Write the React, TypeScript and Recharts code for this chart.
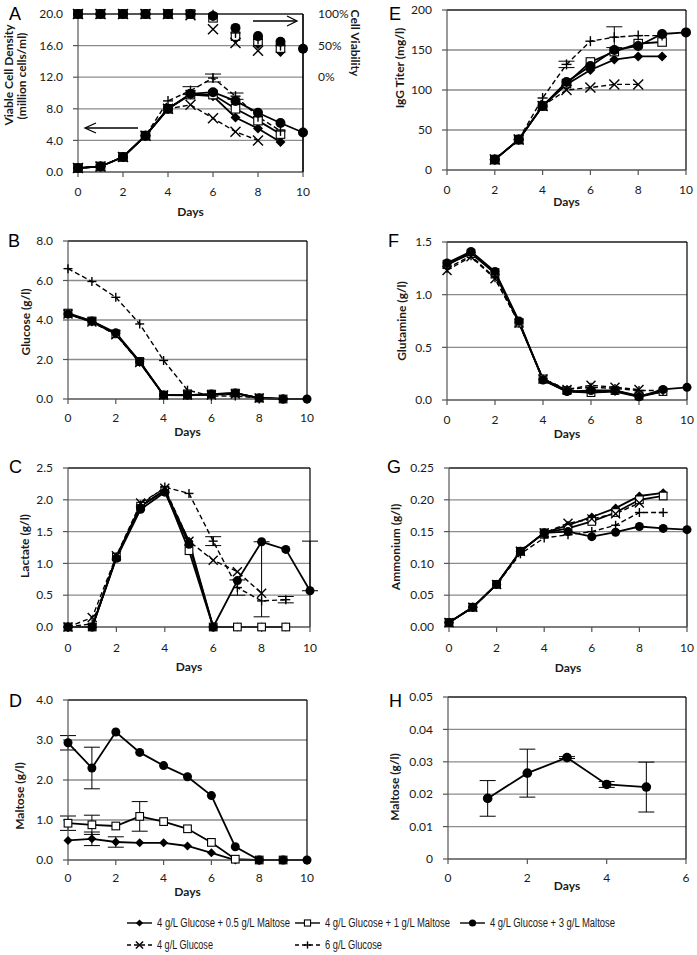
import React from 'react';
import { ComposedChart, Line, XAxis, YAxis, CartesianGrid, ReferenceLine, ErrorBar, Label } from 'recharts';

const FONT = 'Lato, "Open Sans", "DejaVu Sans", sans-serif';
const INK = '#000';
const TXT = '#1a1a1a';

// ---------- categories ----------
const days = [0, 1, 2, 3, 4, 5, 6, 7, 8, 9, 10];
const xTicks10 = [0, 2, 4, 6, 8, 10];
const hDays = [1, 2, 3, 4, 5];
const xTicksH = [0, 2, 4, 6];

const seriesNames = [
  '4 g/L Glucose + 0.5 g/L Maltose',
  '4 g/L Glucose + 1 g/L Maltose',
  '4 g/L Glucose + 3 g/L Maltose',
  '4 g/L Glucose',
  '6 g/L Glucose',
];

// ---------- A: viable cell density (million cells/ml) ----------
const vcdM05 = [0.5, 0.7, 1.9, 4.6, 8.0, 9.8, 9.6, 6.9, 5.5, 3.8, null];
const vcdM1 = [0.5, 0.7, 1.9, 4.6, 8.0, 9.8, 9.8, 8.0, 6.5, 4.8, null];
const vcdM3 = [0.5, 0.7, 1.9, 4.6, 8.0, 9.9, 10.1, 9.0, 7.5, 6.2, 5.0];
const vcdG4 = [0.5, 0.7, 1.9, 4.6, 8.0, 8.5, 6.8, 5.1, 4.0, null, null];
const vcdG6 = [0.5, 0.7, 1.9, 4.6, 9.0, 10.3, 11.9, 9.6, 7.0, 5.2, null];
const vcdG6Err = [null, null, null, null, null, 0.5, 0.5, 0.4, null, null, null];
// ---------- A: cell viability (%) ----------
const viaM05 = [100, 100, 100, 100, 100, 100, 97, 62, 52, 40, null];
const viaM1 = [100, 100, 100, 100, 100, 100, 94, 65, 57, 46, null];
const viaM3 = [100, 100, 100, 100, 100, 100, 97, 78, 65, 56, 45];
const viaG4 = [100, 100, 100, 100, 100, 98, 76, 54, 42, null, null];
const viaG6 = [100, 100, 100, 100, 100, 100, 99, 70, 60, 50, null];
const viaDomain = [-150, 100];
const viaTicks = [0, 50, 100];

// ---------- E: IgG titer (mg/l) ----------
const igM05 = [null, null, 13, 38, 80, 107, 125, 138, 142, 142, null];
const igM1 = [null, null, 13, 38, 80, 108, 135, 148, 158, 160, null];
const igM3 = [null, null, 13, 38, 80, 110, 130, 150, 155, 170, 172];
const igG4 = [null, null, 13, 38, 80, 100, 103, 107, 107, null, null];
const igG6 = [null, null, 13, 38, 90, 132, 161, 166, 168, 168, null];
const igG6Err = [null, null, null, null, null, 4, null, 13, null, null, null];

// ---------- B: glucose (g/l) ----------
const gluM05 = [4.3, 3.9, 3.3, 1.85, 0.2, 0.18, 0.22, 0.3, 0.05, 0.0, null];
const gluM1 = [4.35, 3.95, 3.3, 1.9, 0.2, 0.2, 0.25, 0.3, 0.05, 0.0, null];
const gluM3 = [4.3, 3.95, 3.35, 1.9, 0.2, 0.2, 0.25, 0.3, 0.05, 0.0, 0.0];
const gluG4 = [4.3, 3.9, 3.25, 1.85, 0.2, 0.2, 0.2, 0.25, 0.05, null, null];
const gluG6 = [6.6, 5.95, 5.15, 3.8, 1.95, 0.45, 0.15, 0.15, 0.05, 0.0, null];

// ---------- F: glutamine (g/l) ----------
const glnM05 = [1.28, 1.4, 1.2, 0.74, 0.19, 0.08, 0.07, 0.08, 0.03, 0.08, null];
const glnM1 = [1.29, 1.39, 1.21, 0.73, 0.2, 0.09, 0.07, 0.09, 0.04, 0.08, null];
const glnM3 = [1.3, 1.41, 1.22, 0.75, 0.19, 0.08, 0.09, 0.09, 0.03, 0.1, 0.12];
const glnG4 = [1.23, 1.36, 1.15, 0.73, 0.2, 0.1, 0.14, 0.12, 0.1, null, null];
const glnG6 = [1.25, 1.37, 1.16, 0.73, 0.2, 0.1, 0.12, 0.11, 0.09, 0.09, null];

// ---------- C: lactate (g/l) ----------
const lacM05 = [0, 0, 1.1, 1.9, 2.15, 1.35, 0, 0, 0, 0, null];
const lacM1 = [0, 0, 1.1, 1.9, 2.15, 1.2, 0, 0, 0, 0, null];
const lacM3 = [0, 0, 1.08, 1.85, 2.12, 1.3, 0, 0.73, 1.34, 1.22, 0.57];
const lacM3Err = [null, null, null, null, null, null, null, null, [1.18, 0], null, [0, 0.78]];
const lacG4 = [0, 0.15, 1.12, 1.95, 2.18, 1.35, 1.05, 0.87, 0.53, null, null];
const lacG6 = [0, 0.05, 1.1, 1.92, 2.2, 2.1, 1.35, 0.62, 0.41, 0.43, null];
const lacG6Err = [null, null, null, null, null, null, 0.07, 0.12, null, 0.05, null];

// ---------- G: ammonium (g/l) ----------
const ammM05 = [0.007, 0.031, 0.067, 0.119, 0.148, 0.16, 0.173, 0.187, 0.206, 0.211, null];
const ammM1 = [0.007, 0.031, 0.067, 0.119, 0.148, 0.155, 0.166, 0.18, 0.2, 0.206, null];
const ammM3 = [0.007, 0.031, 0.067, 0.119, 0.148, 0.15, 0.142, 0.149, 0.158, 0.155, 0.153];
const ammG4 = [0.007, 0.031, 0.067, 0.119, 0.148, 0.163, 0.17, 0.178, 0.195, null, null];
const ammG6 = [0.007, 0.031, 0.067, 0.115, 0.14, 0.145, 0.15, 0.16, 0.18, 0.18, null];

// ---------- D: maltose (g/l) ----------
const malM05 = [0.49, 0.53, 0.45, 0.43, 0.43, 0.35, 0.18, 0.0, 0.0, 0.0, null];
const malM05Err = [null, 0.17, 0.13, null, null, null, null, null, null, null, null];
const malM1 = [0.92, 0.88, 0.85, 1.09, 0.96, 0.78, 0.44, 0.02, 0.0, 0.0, null];
const malM1Err = [0.18, 0.24, null, 0.37, null, null, null, null, null, null, null];
const malM3 = [2.93, 2.3, 3.2, 2.69, 2.36, 2.08, 1.61, 0.33, 0.0, 0.0, 0.0];
const malM3Err = [0.18, 0.52, null, null, null, null, null, null, null, null, null];

// ---------- H: maltose (g/l), glucose-only culture ----------
const hMal = [0.0187, 0.0265, 0.0313, 0.023, 0.0222];
const hMalErr = [0.0055, 0.0074, 0.0003, 0.0009, 0.0077];

// ---------- axis ticks ----------
const ticksA = [0, 4, 8, 12, 16, 20];
const ticksE = [0, 50, 100, 150, 200];
const ticksB = [0, 2, 4, 6, 8];
const ticksF = [0, 0.5, 1.0, 1.5];
const ticksC = [0, 0.5, 1.0, 1.5, 2.0, 2.5];
const ticksG = [0, 0.05, 0.1, 0.15, 0.2, 0.25];
const ticksD = [0, 1, 2, 3, 4];
const ticksH = [0, 0.01, 0.02, 0.03, 0.04, 0.05];

type Shape = 'diamond' | 'square' | 'circle' | 'x' | 'plus';

function buildRows(xs: number[], cols: Record<string, any[]>) {
  return xs.map((x, i) => {
    const r: any = { day: x };
    Object.keys(cols).forEach((k) => {
      r[k] = cols[k][i];
    });
    return r;
  });
}

const dataA = buildRows(days, {
  m05: vcdM05, m1: vcdM1, m3: vcdM3, g4: vcdG4, g6: vcdG6, g6e: vcdG6Err,
  vm05: viaM05, vm1: viaM1, vm3: viaM3, vg4: viaG4, vg6: viaG6,
});
const dataE = buildRows(days, { m05: igM05, m1: igM1, m3: igM3, g4: igG4, g6: igG6, g6e: igG6Err });
const dataB = buildRows(days, { m05: gluM05, m1: gluM1, m3: gluM3, g4: gluG4, g6: gluG6 });
const dataF = buildRows(days, { m05: glnM05, m1: glnM1, m3: glnM3, g4: glnG4, g6: glnG6 });
const dataC = buildRows(days, { m05: lacM05, m1: lacM1, m3: lacM3, m3e: lacM3Err, g4: lacG4, g6: lacG6, g6e: lacG6Err });
const dataG = buildRows(days, { m05: ammM05, m1: ammM1, m3: ammM3, g4: ammG4, g6: ammG6 });
const dataD = buildRows(days, { m05: malM05, m05e: malM05Err, m1: malM1, m1e: malM1Err, m3: malM3, m3e: malM3Err });
const dataH = buildRows(hDays, { m3: hMal, m3e: hMalErr });

function Mark({ shape, cx, cy, s }: { shape: Shape; cx: number; cy: number; s: number }) {
  if (shape === 'diamond')
    return <polygon points={`${cx},${cy - s} ${cx + s},${cy} ${cx},${cy + s} ${cx - s},${cy}`} fill={INK} />;
  if (shape === 'square') {
    const h = s * 0.85;
    return <rect x={cx - h} y={cy - h} width={2 * h} height={2 * h} fill="#fff" stroke={INK} strokeWidth={1.1} />;
  }
  if (shape === 'circle') return <circle cx={cx} cy={cy} r={s} fill={INK} />;
  if (shape === 'x')
    return (
      <g stroke={INK} strokeWidth={1.4}>
        <line x1={cx - s} y1={cy - s} x2={cx + s} y2={cy + s} />
        <line x1={cx - s} y1={cy + s} x2={cx + s} y2={cy - s} />
      </g>
    );
  return (
    <g stroke={INK} strokeWidth={1.4}>
      <line x1={cx - s} y1={cy} x2={cx + s} y2={cy} />
      <line x1={cx} y1={cy - s} x2={cx} y2={cy + s} />
    </g>
  );
}

type Spec = { key: string; shape: Shape; dash?: string; err?: string; axis?: string; noLine?: boolean };

const specsAll: Spec[] = [
  { key: 'm05', shape: 'diamond' },
  { key: 'm1', shape: 'square' },
  { key: 'm3', shape: 'circle' },
  { key: 'g4', shape: 'x', dash: '5 3' },
  { key: 'g6', shape: 'plus', dash: '5 3' },
];

function renderLines(specs: Spec[], s: number) {
  return specs.map((sp) => (
    <Line
      key={sp.key}
      yAxisId={sp.axis ?? 'L'}
      dataKey={sp.key}
      type="linear"
      stroke={sp.noLine ? 'none' : INK}
      strokeWidth={sp.dash ? 1.4 : 1.8}
      strokeDasharray={sp.dash}
      isAnimationActive={false}
      activeDot={false}
      legendType="none"
      dot={(p: any) => {
        if (p.value == null || p.cx == null || p.cy == null || isNaN(p.cy))
          return <g key={`${sp.key}-${p.index}`} />;
        return <Mark key={`${sp.key}-${p.index}`} shape={sp.shape} cx={p.cx} cy={p.cy} s={s} />;
      }}
    >
      {sp.err ? <ErrorBar dataKey={sp.err} width={8} stroke={INK} strokeWidth={1} direction="y" /> : null}
    </Line>
  ));
}

const tickStyle = { fontSize: 12, fontFamily: FONT, fill: TXT };

function Panel(props: {
  x0: number; x1: number; yTop: number; yBot: number; xh: number; tm: number;
  data: any[]; yDomain: number[]; yTicks: number[]; yFmt: (v: number) => string;
  xDomain: number[]; xTicks: number[]; specs: Spec[]; s: number;
  extra?: React.ReactNode[]; rightW?: number;
}) {
  const { x0, x1, yTop, yBot, xh, tm, data, yDomain, yTicks, yFmt, xDomain, xTicks, specs, s, extra, rightW } = props;
  const MT = 8, MB = 8, YW = 60;
  const rw = rightW ?? 0;
  const MR = rightW ? 3 : 10;
  const width = YW + (x1 - x0) + rw + MR;
  const height = MT + (yBot - yTop) + xh + MB;
  return (
    <div style={{ position: 'absolute', left: x0 - YW, top: yTop - MT }}>
      <ComposedChart width={width} height={height} data={data} margin={{ top: MT, right: MR, bottom: MB, left: 0 }}>
        <CartesianGrid yAxisId="L" horizontal vertical={false} stroke="#8c8c8c" strokeWidth={1.3} />
        <XAxis
          dataKey="day"
          type="number"
          domain={xDomain}
          ticks={xTicks}
          height={xh}
          tickSize={5}
          tickMargin={tm}
          axisLine={{ stroke: '#555', strokeWidth: 1.2 }}
          tickLine={{ stroke: '#555', strokeWidth: 1.2 }}
          tick={tickStyle}
        >
          <Label value="Days" position="insideBottom" offset={0} fontSize={12} fontWeight={700} fontFamily={FONT} fill={TXT} />
        </XAxis>
        <YAxis
          yAxisId="L"
          type="number"
          domain={yDomain}
          ticks={yTicks}
          width={YW}
          tickSize={5}
          tickMargin={10}
          tickFormatter={yFmt}
          axisLine={{ stroke: '#555', strokeWidth: 1.2 }}
          tickLine={{ stroke: '#555', strokeWidth: 1.2 }}
          tick={tickStyle}
        />
        {extra}
        <ReferenceLine yAxisId="L" x={xDomain[1]} stroke={INK} strokeWidth={1.2} />
        <ReferenceLine yAxisId="L" y={yDomain[1]} stroke={INK} strokeWidth={1.2} />
        {renderLines(specs, s)}
      </ComposedChart>
    </div>
  );
}

const f1 = (v: number) => v.toFixed(1);
const f0 = (v: number) => v.toFixed(0);
const f2 = (v: number) => v.toFixed(2);
const fH = (v: number) => (v === 0 ? '0' : v.toFixed(2));

const panelLetters = [
  { t: 'A', x: 9, y: 20 },
  { t: 'E', x: 389, y: 20 },
  { t: 'B', x: 8, y: 247 },
  { t: 'F', x: 388, y: 247 },
  { t: 'C', x: 9, y: 473 },
  { t: 'G', x: 387, y: 473 },
  { t: 'D', x: 9, y: 707 },
  { t: 'H', x: 389, y: 707 },
];

const yTitles = [
  { t: 'Viable Cell Density', x: 13, y: 75 },
  { t: '(million cells/ml)', x: 26, y: 76 },
  { t: 'IgG Titer (mg/l)', x: 404, y: 68 },
  { t: 'Glucose (g/l)', x: 30, y: 322 },
  { t: 'Glutamine (g/l)', x: 406, y: 321 },
  { t: 'Lactate (g/l)', x: 29, y: 546 },
  { t: 'Ammonium (g/l)', x: 400, y: 547 },
  { t: 'Maltose (g/l)', x: 24, y: 796 },
  { t: 'Maltose (g/l)', x: 399, y: 787 },
];

const legendItems = [
  { name: seriesNames[0], shape: 'diamond' as Shape, dash: undefined, x: 127, y: 923, w: 133 },
  { name: seriesNames[1], shape: 'square' as Shape, dash: undefined, x: 295, y: 923, w: 125 },
  { name: seriesNames[2], shape: 'circle' as Shape, dash: undefined, x: 460, y: 923, w: 125 },
  { name: seriesNames[3], shape: 'x' as Shape, dash: '4 3', x: 127, y: 945, w: 56 },
  { name: seriesNames[4], shape: 'plus' as Shape, dash: '4 3', x: 295, y: 945, w: 57 },
];

function Overlay() {
  const title = { fontFamily: FONT, fontWeight: 700, fontSize: 12, fill: TXT } as const;
  return (
    <svg width={697} height={955} style={{ position: 'absolute', left: 0, top: 0, pointerEvents: 'none' }}>
      {panelLetters.map((l) => (
        <text key={l.t} x={l.x} y={l.y} fontFamily='"Liberation Sans", Arial, sans-serif' fontSize={18} fill={INK}>
          {l.t}
        </text>
      ))}
      {yTitles.map((t, i) => (
        <text key={i} x={t.x} y={t.y} textAnchor="middle" transform={`rotate(-90 ${t.x} ${t.y})`} {...title}>
          {t.t}
        </text>
      ))}
      <text x={351} y={43} textAnchor="middle" transform="rotate(90 351 43)" {...title}>
        Cell Viability
      </text>
      {/* arrows in panel A */}
      <g stroke={INK} strokeWidth={1.3} fill="none">
        <line x1={86} y1={128} x2={138} y2={128} />
        <polyline points="96,123 85,128 96,133" />
        <line x1={253} y1={21} x2={296} y2={21} />
        <polyline points="287,16 297,21 287,26" />
      </g>
      {legendItems.map((it, i) => (
        <g key={i}>
          <line x1={it.x} y1={it.y} x2={it.x + 25} y2={it.y} stroke={INK} strokeWidth={1.4} strokeDasharray={it.dash} />
          <Mark shape={it.shape} cx={it.x + 12.5} cy={it.y} s={3.6} />
          <text
            x={it.x + 30}
            y={it.y + 4}
            fontFamily='"Liberation Sans Narrow", "Liberation Sans", Arial, sans-serif'
            fontSize={12}
            fill={TXT}
            textLength={it.w}
            lengthAdjust="spacingAndGlyphs"
          >
            {it.name}
          </text>
        </g>
      ))}
    </svg>
  );
}

const specsA: Spec[] = [
  ...specsAll.map((s) => (s.key === 'g6' ? { ...s, err: 'g6e' } : s)),
  { key: 'vm05', shape: 'diamond', axis: 'V', noLine: true },
  { key: 'vm1', shape: 'square', axis: 'V', noLine: true },
  { key: 'vm3', shape: 'circle', axis: 'V', noLine: true },
  { key: 'vg4', shape: 'x', axis: 'V', noLine: true },
  { key: 'vg6', shape: 'plus', axis: 'V', noLine: true },
];
const specsE: Spec[] = specsAll.map((s) => (s.key === 'g6' ? { ...s, err: 'g6e' } : s));
const specsC: Spec[] = specsAll.map((s) =>
  s.key === 'g6' ? { ...s, err: 'g6e' } : s.key === 'm3' ? { ...s, err: 'm3e' } : s
);
const specsD: Spec[] = [
  { key: 'm05', shape: 'diamond', err: 'm05e' },
  { key: 'm1', shape: 'square', err: 'm1e' },
  { key: 'm3', shape: 'circle', err: 'm3e' },
];
const specsH: Spec[] = [{ key: 'm3', shape: 'circle', err: 'm3e' }];

export default function App() {
  const viaAxis = (
    <YAxis
      key="via"
      yAxisId="V"
      orientation="right"
      type="number"
      domain={viaDomain}
      ticks={viaTicks}
      width={45}
      tickSize={0}
      tickMargin={15}
      tickLine={false}
      axisLine={{ stroke: INK, strokeWidth: 1.2 }}
      tickFormatter={(v: number) => `${v}%`}
      tick={tickStyle}
    />
  );
  return (
    <div style={{ position: 'absolute', left: 0, top: 0, width: 697, height: 955, background: '#fff' }}>
      <Panel x0={78} x1={303} yTop={14} yBot={172} xh={44} tm={10} data={dataA} yDomain={[0, 20]} yTicks={ticksA}
        yFmt={f1} xDomain={[0, 10]} xTicks={xTicks10} specs={specsA} s={5} extra={[viaAxis]} rightW={45} />
      <Panel x0={447} x1={686} yTop={10} yBot={170} xh={36} tm={10} data={dataE} yDomain={[0, 200]} yTicks={ticksE}
        yFmt={f0} xDomain={[0, 10]} xTicks={xTicks10} specs={specsE} s={5} />
      <Panel x0={68} x1={307} yTop={241} yBot={399} xh={37} tm={9} data={dataB} yDomain={[0, 8]} yTicks={ticksB}
        yFmt={f1} xDomain={[0, 10]} xTicks={xTicks10} specs={specsAll} s={4.5} />
      <Panel x0={447} x1={687} yTop={242} yBot={400} xh={38} tm={10} data={dataF} yDomain={[0, 1.5]} yTicks={ticksF}
        yFmt={f1} xDomain={[0, 10]} xTicks={xTicks10} specs={specsAll} s={4.5} />
      <Panel x0={68} x1={310} yTop={468} yBot={627} xh={44} tm={11} data={dataC} yDomain={[0, 2.5]} yTicks={ticksC}
        yFmt={f1} xDomain={[0, 10]} xTicks={xTicks10} specs={specsC} s={4.5} />
      <Panel x0={449} x1={687} yTop={468} yBot={627} xh={45} tm={11} data={dataG} yDomain={[0, 0.25]} yTicks={ticksG}
        yFmt={f2} xDomain={[0, 10]} xTicks={xTicks10} specs={specsAll} s={4.5} />
      <Panel x0={68} x1={307} yTop={700} yBot={860} xh={36} tm={8} data={dataD} yDomain={[0, 4]} yTicks={ticksD}
        yFmt={f1} xDomain={[0, 10]} xTicks={xTicks10} specs={specsD} s={4.5} />
      <Panel x0={448} x1={686} yTop={697} yBot={859} xh={31} tm={9} data={dataH} yDomain={[0, 0.05]} yTicks={ticksH}
        yFmt={fH} xDomain={[0, 6]} xTicks={xTicksH} specs={specsH} s={4.8} />
      <Overlay />
    </div>
  );
}
